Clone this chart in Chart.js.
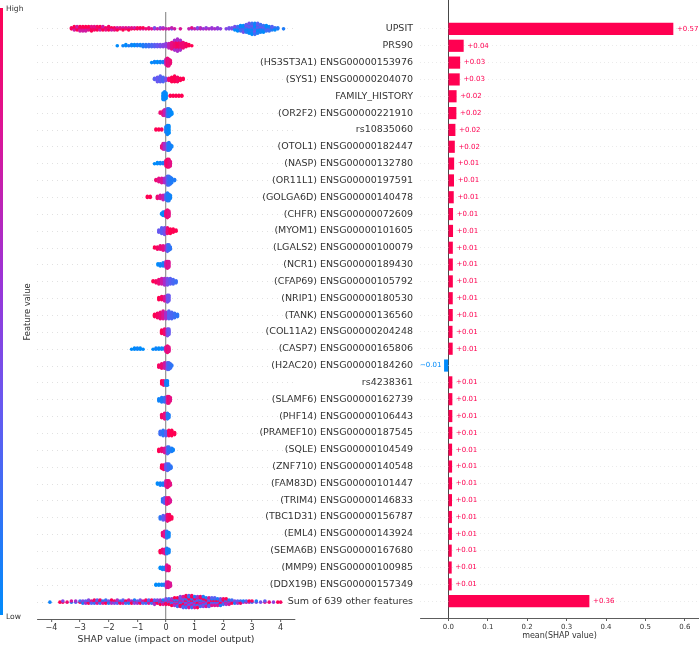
<!DOCTYPE html>
<html>
<head>
<meta charset="utf-8">
<script src="https://cdn.jsdelivr.net/npm/chart.js@4.4.0/dist/chart.umd.min.js"></script>
<style>
  body { margin: 0; background: #fff; width: 699px; height: 645px; position: relative; overflow: hidden; }
  .box { position: absolute; top: 0; height: 645px; }
</style>
</head>
<body>
<div class="box" style="left:0;width:300px"><canvas id="swarm"></canvas></div>
<div class="box" style="left:220px;width:479px"><canvas id="bars"></canvas></div>
<script>
//----------------- data -------------------------

const featureNames = ['UPSIT', 'PRS90', '(HS3ST3A1) ENSG00000153976', '(SYS1) ENSG00000204070', 'FAMILY_HISTORY',
  '(OR2F2) ENSG00000221910', 'rs10835060', '(OTOL1) ENSG00000182447', '(NASP) ENSG00000132780',
  '(OR11L1) ENSG00000197591', '(GOLGA6D) ENSG00000140478', '(CHFR) ENSG00000072609', '(MYOM1) ENSG00000101605',
  '(LGALS2) ENSG00000100079', '(NCR1) ENSG00000189430', '(CFAP69) ENSG00000105792', '(NRIP1) ENSG00000180530',
  '(TANK) ENSG00000136560', '(COL11A2) ENSG00000204248', '(CASP7) ENSG00000165806', '(H2AC20) ENSG00000184260',
  'rs4238361', '(SLAMF6) ENSG00000162739', '(PHF14) ENSG00000106443', '(PRAMEF10) ENSG00000187545',
  '(SQLE) ENSG00000104549', '(ZNF710) ENSG00000140548', '(FAM83D) ENSG00000101447', '(TRIM4) ENSG00000146833',
  '(TBC1D31) ENSG00000156787', '(EML4) ENSG00000143924', '(SEMA6B) ENSG00000167680', '(MMP9) ENSG00000100985',
  '(DDX19B) ENSG00000157349', 'Sum of 639 other features'];

// mean(SHAP value), same order as featureNames
const meanShap = [0.570, 0.038, 0.029, 0.028, 0.020, 0.0195, 0.017, 0.0155, 0.0138, 0.0135, 0.0128, 0.011,
  0.011, 0.0105, 0.0105, 0.0105, 0.0103, 0.0103, 0.0097, 0.0101, -0.0101, 0.0093, 0.0093, 0.0092, 0.0092,
  0.0086, 0.0086, 0.0085, 0.0083, 0.0082, 0.0081, 0.0077, 0.0076, 0.0076, 0.357];

const shapTicks = [-4, -3, -2, -1, 0, 1, 2, 3, 4];
const meanTicks = [0, 0.1, 0.2, 0.3, 0.4, 0.5, 0.6];

// feature value mixes (0 = low/blue, 1 = high/red)
const mixRed = [1, 0.95, 0.85, 1, 0.75];
const mixBlue = [0.05, 0.2, 0.0, 0.4, 0.1, 0.3];
const mixPurple = [0.7, 0.5, 0.85, 0.6, 0.4];
const mixAll = [0.95, 0.45, 0.1, 0.8, 0.3, 0.6, 1, 0.2];

// beeswarm columns per feature: [shap value, dots stacked, feature value]
const swarmRows = [
  [[-3.3,2,mixRed],[-3.2,4,mixRed],[-3.1,4,mixRed],[-3.0,5,mixRed],[-2.9,5,mixRed],[-2.8,5,mixRed],[-2.7,4,mixRed],
   [-2.6,5,mixRed],[-2.5,4,mixRed],[-2.4,4,mixRed],[-2.3,4,mixRed],[-2.2,4,mixRed],[-2.1,3,mixRed],[-2.0,4,mixRed],
   [-1.9,3,mixRed],[-1.8,3,mixRed],[-1.7,3,mixRed],[-1.6,2,mixRed],[-1.5,3,mixRed],[-1.4,2,mixRed],[-1.3,3,mixRed],
   [-1.2,2,mixRed],[-1.1,2,mixRed],[-1.0,2,mixRed],[-0.9,2,mixRed],[-0.8,2,mixRed],[-0.7,1,0.9],[-0.6,2,mixRed],[-0.5,1,0.8],
   [-0.4,2,mixPurple],[-0.3,1,0.7],[-0.2,2,mixPurple],[-0.1,2,mixPurple],[0.0,1,0.7],[0.1,1,0.75],[0.2,2,mixPurple],
   [0.3,1,0.75],[0.5,1,0.8],[0.8,1,0.7],[0.9,2,mixPurple],[1.0,1,0.7],[1.1,2,mixPurple],[1.2,2,0.65],[1.3,1,0.55],
   [1.4,2,mixPurple],[1.5,1,0.6],[1.6,2,0.55],[1.7,1,0.6],[1.8,2,0.5],[1.9,1,0.5],[2.1,1,0.45],[2.2,2,0.4],
   [2.3,2,0.4],[2.4,4,mixBlue],[2.5,5,mixBlue],[2.6,6,mixBlue],[2.7,7,mixBlue],[2.8,8,mixBlue],[2.9,10,mixBlue],
   [3.0,11,mixBlue],[3.1,11,mixBlue],[3.2,10,mixBlue],[3.3,8,mixBlue],[3.4,7,mixBlue],[3.5,6,mixBlue],
   [3.6,5,mixBlue],[3.7,4,mixBlue],[3.8,3,mixBlue],[3.9,2,0.1],[4.1,1,0.1]],
  [[-1.7,1,0],[-1.5,1,0.05],[-1.4,2,0],[-1.3,1,0.1],[-1.2,2,0.05],[-1.1,2,0],[-1.0,2,0.1],[-0.9,2,0.05],
   [-0.8,3,0.1],[-0.7,3,0.15],[-0.6,3,0.2],[-0.5,3,0.25],[-0.4,3,0.3],[-0.3,3,0.35],[-0.2,3,0.4],[-0.1,3,0.45],
   [0.0,4,0.5],[0.1,5,0.7],[0.2,7,0.85],[0.3,8,0.9],[0.3,2,0.6],[0.4,8,0.95],[0.4,4,0.6],[0.5,8,0.9],[0.5,2,0.6],
   [0.6,6,0.9],[0.7,4,0.95],[0.8,2,1],[0.9,1,1]],
  [[-0.5,1,0],[-0.4,2,0.05],[-0.3,2,0],[-0.2,2,0.05],[-0.1,2,0.1],[0.0,6,0.7],[0.05,8,0.9],[0.1,7,0.85],[0.15,4,0.9]],
  [[-0.4,2,0.3],[-0.3,5,0.35],[-0.2,6,0.3],[-0.1,5,0.25],[0.0,3,0.4],[0.1,3,0.9],[0.2,5,1],[0.3,6,1],[0.4,5,0.95],
   [0.5,3,1],[0.6,2,1]],
  [[-0.1,7,0],[-0.05,8,0.05],[0.0,6,0],[0.15,2,1],[0.25,2,1],[0.35,2,1],[0.45,2,1],[0.55,2,1]],
  [[-0.2,2,0.9],[-0.1,5,0.85],[-0.05,6,0.7],[0.05,8,0.2],[0.1,8,0.1],[0.15,6,0.05],[0.2,3,0]],
  [[-0.35,2,1],[-0.25,2,1],[-0.15,2,0.95],[0.0,6,0.1],[0.05,9,0.05],[0.1,8,0]],
  [[-0.15,3,0.9],[-0.1,6,0.8],[-0.05,6,0.6],[0.05,7,0.25],[0.1,8,0.1],[0.15,5,0.1],[0.2,2,0.05]],
  [[-0.4,1,0],[-0.3,2,0],[-0.2,2,0.05],[-0.1,2,0.1],[0.0,6,0.9],[0.05,8,0.95],[0.1,8,0.9],[0.15,5,0.85]],
  [[-0.35,2,0.9],[-0.25,4,0.85],[-0.15,5,0.8],[-0.05,5,0.6],[0.05,9,0.3],[0.1,9,0.2],[0.15,7,0.15],[0.2,5,0.1],[0.3,2,0.1]],
  [[-0.65,2,1],[-0.55,2,1],[-0.3,3,0.9],[-0.2,4,0.8],[-0.1,5,0.7],[0.0,6,0.3],[0.05,8,0.1],[0.1,7,0.1],[0.15,4,0.05]],
  [[-0.15,2,0],[-0.1,4,0.05],[-0.05,4,0],[0.0,6,0.85],[0.05,8,0.9],[0.1,6,0.85]],
  [[-0.25,3,0.35],[-0.15,6,0.3],[-0.05,7,0.4],[0.05,6,0.9],[0.15,5,1],[0.25,4,1],[0.35,2,1]],
  [[-0.4,2,1],[-0.3,3,0.95],[-0.2,4,0.9],[-0.1,5,0.85],[0.0,5,0.7],[0.05,7,0.3],[0.1,6,0.2],[0.15,3,0.15]],
  [[-0.28,2,0],[-0.2,3,0.05],[-0.1,4,0.1],[0.0,6,0.7],[0.05,7,0.85],[0.1,6,0.8]],
  [[-0.45,2,1],[-0.35,3,0.95],[-0.25,5,0.9],[-0.15,6,0.75],[-0.05,7,0.6],[0.05,7,0.4],[0.15,6,0.3],[0.25,5,0.25],[0.35,3,0.2]],
  [[-0.25,3,1],[-0.15,4,0.95],[-0.05,5,0.8],[0.05,7,0.4],[0.1,6,0.35]],
  [[-0.4,3,1],[-0.3,5,0.95],[-0.2,7,0.9],[-0.1,8,0.8],[0.0,7,0.6],[0.1,8,0.3],[0.2,7,0.25],[0.3,5,0.2],[0.4,3,0.15]],
  [[-0.15,4,1],[-0.05,6,0.9],[0.05,7,0.45],[0.1,6,0.35]],
  [[-1.2,1,0],[-1.1,2,0],[-1.0,2,0.05],[-0.9,2,0],[-0.8,1,0],[-0.45,1,0],[-0.35,2,0.05],[-0.25,2,0],[-0.15,2,0.05],
   [-0.05,2,0.1],[0.0,5,0.8],[0.05,7,0.9],[0.1,5,0.85]],
  [[-0.25,3,0.95],[-0.15,5,0.9],[-0.05,6,0.75],[0.05,7,0.35],[0.1,7,0.25],[0.15,5,0.2],[0.2,2,0.15]],
  [[-0.15,4,1],[-0.08,5,0.9],[0.0,5,0.1],[0.05,5,0.05]],
  [[-0.25,3,0.05],[-0.15,5,0.1],[-0.05,5,0.2],[0.05,7,0.8],[0.1,7,0.9],[0.15,4,0.85]],
  [[-0.15,4,0.95],[-0.05,6,0.85],[0.05,6,0.15],[0.1,4,0.1]],
  [[-0.2,4,0.2],[-0.1,6,0.15],[0.0,5,0.3],[0.1,6,0.95],[0.2,6,1],[0.3,3,1]],
  [[-0.25,3,1],[-0.15,4,0.9],[-0.05,5,0.8],[0.05,7,0.3],[0.1,6,0.15],[0.2,4,0.1],[0.25,2,0.05]],
  [[-0.15,4,1],[-0.08,5,0.95],[0.0,6,0.4],[0.05,7,0.3],[0.1,6,0.2],[0.17,3,0.15]],
  [[-0.3,2,0],[-0.2,3,0.05],[-0.1,3,0.1],[0.0,6,0.75],[0.05,7,0.85],[0.1,6,0.9],[0.15,3,0.85]],
  [[-0.12,4,0.15],[-0.05,6,0.3],[0.03,7,0.85],[0.1,6,0.9],[0.15,3,0.8]],
  [[-0.2,3,0.15],[-0.1,5,0.3],[0.0,5,0.45],[0.05,7,0.9],[0.12,6,0.95],[0.2,3,1]],
  [[-0.12,4,0.9],[-0.05,6,0.8],[0.03,7,0.15],[0.1,5,0.05]],
  [[-0.2,3,1],[-0.12,4,0.9],[-0.04,5,0.8],[0.03,6,0.1],[0.1,4,0.05]],
  [[-0.2,2,0],[-0.12,3,0.05],[-0.04,3,0.15],[0.03,6,0.8],[0.1,5,0.9]],
  [[-0.35,2,0],[-0.25,2,0],[-0.15,2,0.05],[-0.07,2,0.1],[0.02,6,0.7],[0.08,6,0.85],[0.15,4,0.8]],
  [[-4.05,1,0.05],[-3.7,1,1],[-3.6,2,mixAll],[-3.45,1,0.9],[-3.3,2,mixAll],[-3.15,2,mixAll],[-3.0,2,mixAll],
   [-2.9,3,mixAll],[-2.8,3,mixAll],[-2.7,4,mixAll],[-2.6,3,mixAll],[-2.5,4,mixAll],[-2.4,4,mixAll],[-2.3,4,mixAll],
   [-2.2,3,mixAll],[-2.1,4,mixAll],[-2.0,3,mixAll],[-1.9,4,mixAll],[-1.8,3,mixAll],[-1.7,4,mixAll],[-1.6,3,mixAll],
   [-1.5,4,mixAll],[-1.4,3,mixAll],[-1.3,4,mixAll],[-1.2,3,mixAll],[-1.1,4,mixAll],[-1.0,3,mixAll],[-0.9,4,mixAll],
   [-0.8,3,mixAll],[-0.7,4,mixAll],[-0.6,4,mixAll],[-0.5,4,mixAll],[-0.4,5,mixAll],[-0.3,4,mixAll],[-0.2,5,mixAll],
   [-0.1,5,mixAll],[0.0,6,mixAll],[0.1,6,mixAll],[0.2,7,mixAll],[0.3,8,mixAll],[0.4,9,mixAll],[0.5,10,mixAll],
   [0.6,11,mixAll],[0.7,12,mixAll],[0.8,12,mixAll],[0.9,12,mixAll],[1.0,11,mixAll],[1.1,11,mixAll],[1.2,10,mixAll],
   [1.3,10,mixAll],[1.4,9,mixAll],[1.5,9,mixAll],[1.6,8,mixAll],[1.7,8,mixAll],[1.8,7,mixAll],[1.9,7,mixAll],
   [2.0,6,mixAll],[2.1,6,mixAll],[2.2,5,mixAll],[2.3,4,mixAll],[2.4,3,mixAll],[2.5,3,mixAll],[2.6,3,mixAll],
   [2.7,2,mixAll],[2.8,2,mixAll],[2.9,2,mixAll],[3.0,2,mixAll],[3.15,2,mixAll],[3.3,1,0.4],[3.45,2,mixAll],
   [3.6,1,0.9],[3.75,1,0.5],[3.9,1,1],[4.0,1,0.95]]
];

//----------------- colours -------------------------

const colorStops = [[0, [0, 139, 251]], [0.35, [105, 88, 240]], [0.55, [155, 52, 215]], [0.8, [220, 20, 150]], [1, [255, 0, 82]]];

function featureColor(c) {
  for (let i = 1; i < colorStops.length; i++) {
    const [p1, a] = colorStops[i - 1];
    const [p2, b] = colorStops[i];
    if (c <= p2) {
      const t = (c - p1) / (p2 - p1);
      return `rgb(${a.map((v, k) => Math.round(v + (b[k] - v) * t)).join(',')})`;
    }
  }
  return 'rgb(255,0,82)';
}

//----------------- swarm layout -------------------------

const nRows = featureNames.length;
const dotStep = 0.065;
const swarmPoints = [];
const swarmColors = [];
swarmRows.forEach((row, i) => {
  const y0 = nRows - 1 - i;
  const stack = {};
  let mixIdx = 0;
  row.forEach(([x, n, c]) => {
    let k = stack[x] || 0;
    for (let j = 0; j < n; j++, k++) {
      const off = Math.ceil(k / 2) * (k % 2 ? 1 : -1) * dotStep;
      swarmPoints.push({ x: x, y: y0 + off });
      swarmColors.push(featureColor(Array.isArray(c) ? c[mixIdx++ % c.length] : c));
    }
    stack[x] = k;
  });
});

Chart.defaults.font.family = "'DejaVu Sans', sans-serif";
Chart.defaults.color = '#333';

const rowTicks = axis => { axis.ticks = featureNames.map((_, i) => ({ value: i })); };
const minus = v => (v < 0 ? '\u2212' + Math.abs(v) : String(v));

//----------------- left: beeswarm -------------------------

const swarmDecor = {
  id: 'swarmDecor',
  afterDraw(chart) {
    const ctx = chart.ctx;
    const g = ctx.createLinearGradient(0, 615, 0, 8);
    colorStops.forEach(([p, c]) => g.addColorStop(p, `rgb(${c.join(',')})`));
    ctx.save();
    ctx.fillStyle = g;
    ctx.fillRect(0, 8, 3, 607);
    ctx.fillStyle = '#333';
    ctx.font = "7.6px 'DejaVu Sans'";
    ctx.textBaseline = 'middle';
    ctx.fillText('High', 6, 9);
    ctx.fillText('Low', 6, 617);
    ctx.translate(28, 312);
    ctx.rotate(-Math.PI / 2);
    ctx.textAlign = 'center';
    ctx.font = "8.4px 'DejaVu Sans'";
    ctx.fillText('Feature value', 0, 0);
    ctx.restore();
  }
};

new Chart(document.getElementById('swarm'), {
  type: 'scatter',
  data: {
    datasets: [{
      data: swarmPoints,
      backgroundColor: swarmColors,
      pointRadius: 1.8,
      pointHoverRadius: 1.8,
      borderWidth: 0
    }]
  },
  options: {
    responsive: true,
    maintainAspectRatio: false,
    animation: false,
    events: [],
    layout: { autoPadding: false, padding: { left: 37, right: 5, top: 12, bottom: 0 } },
    plugins: { legend: { display: false }, tooltip: { enabled: false } },
    scales: {
      x: {
        type: 'linear', min: -4.5, max: 4.5,
        afterBuildTicks: axis => { axis.ticks = shapTicks.map(v => ({ value: v })); },
        afterFit: s => { s.height = 26; s.paddingLeft = 0; s.paddingRight = 0; },
        ticks: { font: { size: 8 }, padding: 1, callback: minus, maxRotation: 0 },
        grid: {
          color: c => (c.tick && c.tick.value === 0 ? '#999' : 'rgba(0,0,0,0)'),
          lineWidth: 1.3, tickColor: '#333', tickLength: 3, tickWidth: 0.8
        },
        border: { display: true, color: '#333', width: 0.8 },
        title: { display: true, text: 'SHAP value (impact on model output)', font: { size: 9.4 }, padding: 0 }
      },
      y: {
        type: 'linear', min: -1, max: nRows,
        afterBuildTicks: rowTicks,
        afterFit: s => { s.width = 0; s.paddingTop = 0; s.paddingBottom = 0; },
        ticks: { display: false },
        grid: { color: '#ccc', lineWidth: 0.6, drawTicks: false },
        border: { display: false, dash: [1, 4] }
      }
    }
  },
  plugins: [swarmDecor]
});

//----------------- right: mean bars -------------------------

const barLabels = {
  id: 'barLabels',
  afterDatasetsDraw(chart) {
    const ctx = chart.ctx;
    const meta = chart.getDatasetMeta(0);
    ctx.save();
    ctx.font = "7px 'DejaVu Sans'";
    ctx.textBaseline = 'middle';
    meta.data.forEach((bar, i) => {
      const v = meanShap[i];
      const txt = (v < 0 ? '\u2212' : '+') + Math.abs(v).toFixed(2);
      ctx.fillStyle = v < 0 ? '#008bfb' : '#ff0051';
      ctx.textAlign = v < 0 ? 'right' : 'left';
      ctx.fillText(txt, bar.x + (v < 0 ? -3 : 4), bar.y);
    });
    ctx.restore();
  }
};

new Chart(document.getElementById('bars'), {
  type: 'bar',
  data: {
    datasets: [{
      data: meanShap.map((v, i) => ({ x: v, y: nRows - 1 - i })),
      backgroundColor: meanShap.map(v => (v < 0 ? '#008bfb' : '#ff0051')),
      barThickness: 11.5,
      borderWidth: 0
    }]
  },
  options: {
    indexAxis: 'y',
    responsive: true,
    maintainAspectRatio: false,
    animation: false,
    events: [],
    layout: { autoPadding: false, padding: 0 },
    plugins: { legend: { display: false }, tooltip: { enabled: false } },
    scales: {
      x: {
        type: 'linear', min: -0.072, max: 0.636,
        afterBuildTicks: axis => { axis.ticks = meanTicks.map(v => ({ value: v })); },
        afterFit: s => { s.height = 27; s.paddingLeft = 0; s.paddingRight = 0; },
        ticks: { font: { size: 7 }, padding: 2, callback: v => v.toFixed(1), maxRotation: 0 },
        grid: {
          color: c => (c.tick && c.tick.value === 0 ? '#333' : 'rgba(0,0,0,0)'),
          lineWidth: 0.9, tickColor: '#333', tickLength: 3, tickWidth: 0.8
        },
        border: { display: true, color: '#333', width: 0.8 },
        title: { display: true, text: 'mean(SHAP value)', font: { size: 8 }, padding: { top: 0, bottom: 4 } }
      },
      y: {
        type: 'linear', min: -1, max: 35.72, offset: false,
        afterBuildTicks: rowTicks,
        afterFit: s => { s.width = 200; s.paddingTop = 0; s.paddingBottom = 0; },
        ticks: { font: { size: 9.5 }, padding: 7, callback: v => featureNames[nRows - 1 - v] },
        grid: { color: '#ddd', lineWidth: 0.6, drawTicks: false, offset: false },
        border: { display: false, dash: [1, 3] }
      }
    }
  },
  plugins: [barLabels]
});
</script>
</body>
</html>
